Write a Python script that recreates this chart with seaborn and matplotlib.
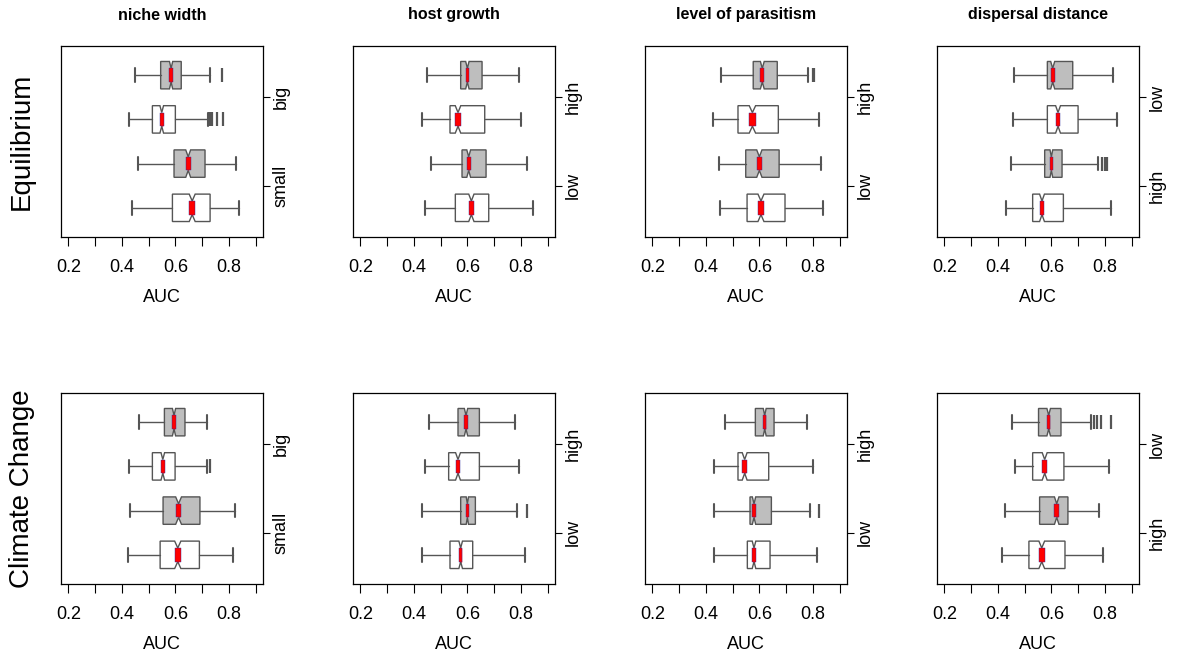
import numpy as np
import matplotlib
matplotlib.use("Agg")
import matplotlib.pyplot as plt
import seaborn as sns

sns.set_theme(style="ticks")
plt.rcParams['font.family'] = ['Liberation Sans', 'DejaVu Sans']
plt.rcParams['text.color'] = 'black'
plt.rcParams['axes.labelcolor'] = 'black'
plt.rcParams['xtick.color'] = 'black'
plt.rcParams['ytick.color'] = 'black'

# ---------------- data ----------------
col_titles = ["niche width", "host growth", "level of parasitism", "dispersal distance"]
row_titles = ["Equilibrium", "Climate Change"]
level_labels = [["small", "big"], ["low", "high"], ["low", "high"], ["high", "low"]]
x_ticks = [0.2, 0.3, 0.4, 0.5, 0.6, 0.7, 0.8, 0.9]
x_ticklabels = ["0.2", "", "0.4", "", "0.6", "", "0.8", ""]
box_fills = ["white", "#BEBEBE", "white", "#BEBEBE"]   # positions 1..4 (bottom to top)
sample_size = 400

# Equilibrium: one list per panel, 4 boxes bottom -> top
eq_whislo = [[0.437, 0.461, 0.427, 0.448], [0.440, 0.465, 0.430, 0.450],
             [0.452, 0.448, 0.427, 0.458], [0.430, 0.450, 0.455, 0.460]]
eq_q1 = [[0.589, 0.595, 0.514, 0.545], [0.555, 0.580, 0.535, 0.575],
         [0.554, 0.549, 0.520, 0.577], [0.530, 0.575, 0.585, 0.585]]
eq_med = [[0.663, 0.648, 0.549, 0.584], [0.615, 0.605, 0.565, 0.600],
          [0.606, 0.600, 0.574, 0.611], [0.565, 0.600, 0.625, 0.605]]
eq_q3 = [[0.730, 0.711, 0.600, 0.622], [0.680, 0.670, 0.665, 0.655],
         [0.696, 0.674, 0.671, 0.667], [0.645, 0.640, 0.700, 0.680]]
eq_whishi = [[0.840, 0.827, 0.721, 0.728], [0.845, 0.825, 0.800, 0.795],
             [0.839, 0.829, 0.825, 0.782], [0.825, 0.775, 0.845, 0.830]]
eq_fliers = [[[], [], [0.726, 0.731, 0.736, 0.756, 0.777], [0.774]],
             [[], [], [], []],
             [[], [], [], [0.800, 0.806]],
             [[], [0.790, 0.800, 0.810], [], []]]

# Climate Change
cc_whislo = [[0.422, 0.430, 0.427, 0.465], [0.430, 0.430, 0.440, 0.455],
             [0.430, 0.430, 0.430, 0.470], [0.417, 0.427, 0.465, 0.452]]
cc_q1 = [[0.543, 0.554, 0.514, 0.559], [0.535, 0.575, 0.530, 0.565],
         [0.555, 0.565, 0.520, 0.585], [0.516, 0.556, 0.530, 0.552]]
cc_med = [[0.609, 0.612, 0.553, 0.595], [0.575, 0.600, 0.565, 0.595],
          [0.580, 0.580, 0.545, 0.620], [0.564, 0.620, 0.575, 0.590]]
cc_q3 = [[0.690, 0.692, 0.599, 0.636], [0.620, 0.630, 0.645, 0.645],
         [0.640, 0.645, 0.635, 0.655], [0.651, 0.662, 0.647, 0.636]]
cc_whishi = [[0.815, 0.822, 0.719, 0.719], [0.815, 0.785, 0.795, 0.780],
             [0.815, 0.790, 0.800, 0.780], [0.794, 0.779, 0.816, 0.747]]
cc_fliers = [[[], [], [0.731], []],
             [[], [0.825], [], []],
             [[], [0.825], [], []],
             [[], [], [], [0.760, 0.772, 0.785, 0.822]]]

rows = [(eq_whislo, eq_q1, eq_med, eq_q3, eq_whishi, eq_fliers),
        (cc_whislo, cc_q1, cc_med, cc_q3, cc_whishi, cc_fliers)]

# ---------------- layout ----------------
W, H = 1184, 657
fig = plt.figure(figsize=(W / 100, H / 100), dpi=100)
panel_left_px = [61, 353, 645, 937]
panel_w_px = 202
row_top_px = [46, 393]
panel_h_px = 191
edge = "#555555"
positions = [1, 2, 3, 4]
box_w = 0.62

for r, (wlo, q1s, meds, q3s, whi, fls) in enumerate(rows):
    for c in range(4):
        ax = fig.add_axes([panel_left_px[c] / W, 1 - (row_top_px[r] + panel_h_px) / H,
                           panel_w_px / W, panel_h_px / H])
        stats = []
        for k in range(4):
            iqr = q3s[c][k] - q1s[c][k]
            half = 1.58 * iqr / np.sqrt(sample_size)
            stats.append(dict(med=meds[c][k], q1=q1s[c][k], q3=q3s[c][k],
                              whislo=wlo[c][k], whishi=whi[c][k],
                              fliers=np.array(fls[c][k]),
                              cilo=meds[c][k] - half, cihi=meds[c][k] + half))
        bp = ax.bxp(stats, positions=positions, widths=box_w, orientation='horizontal',
                    shownotches=True, patch_artist=True,
                    boxprops=dict(edgecolor=edge, linewidth=1.0),
                    whiskerprops=dict(color=edge, linewidth=1.0, linestyle='-'),
                    capprops=dict(color=edge, linewidth=1.5),
                    medianprops=dict(color='red', linewidth=1.0),
                    flierprops=dict(marker='|', markersize=9.5, markeredgecolor=edge,
                                    markeredgewidth=1.6, linestyle='none'))
        for patch, fc in zip(bp['boxes'], box_fills):
            patch.set_facecolor(fc)
        cilo = [s['cilo'] for s in stats]
        ciw = [s['cihi'] - s['cilo'] for s in stats]
        ax.barh(positions, ciw, left=cilo, height=box_w * 0.5, color='red',
                edgecolor='#2a2a9a', linewidth=0.3, zorder=4)

        ax.set_xlim(0.172, 0.928)
        ax.set_ylim(0.34, 4.66)
        ax.set_xticks(x_ticks)
        ax.set_xticklabels(x_ticklabels, fontsize=13)
        ax.yaxis.tick_right()
        ax.set_yticks([1.5, 3.5])
        ax.set_yticklabels(level_labels[c], rotation=90, va='center', ha='left', fontsize=13)
        ax.tick_params(axis='x', direction='out', length=6.5, width=0.8, pad=9, colors='black')
        ax.tick_params(axis='y', direction='out', length=5, width=0.8, pad=2, colors='black',
                       left=False, right=True)
        ax.set_xlabel("AUC", fontsize=13, labelpad=10)
        for sp in ax.spines.values():
            sp.set_visible(True)
            sp.set_color('black')
            sp.set_linewidth(0.9)
        ax.grid(False)
        if r == 0:
            fig.text((panel_left_px[c] + panel_w_px / 2) / W, 1 - 15 / H, col_titles[c],
                     ha='center', va='center', fontsize=11.5, fontweight='bold')
    fig.text(22 / W, 1 - (row_top_px[r] + panel_h_px / 2) / H, row_titles[r],
             rotation=90, ha='center', va='center', fontsize=20)

fig.savefig("out.png", dpi=100, facecolor='white')
